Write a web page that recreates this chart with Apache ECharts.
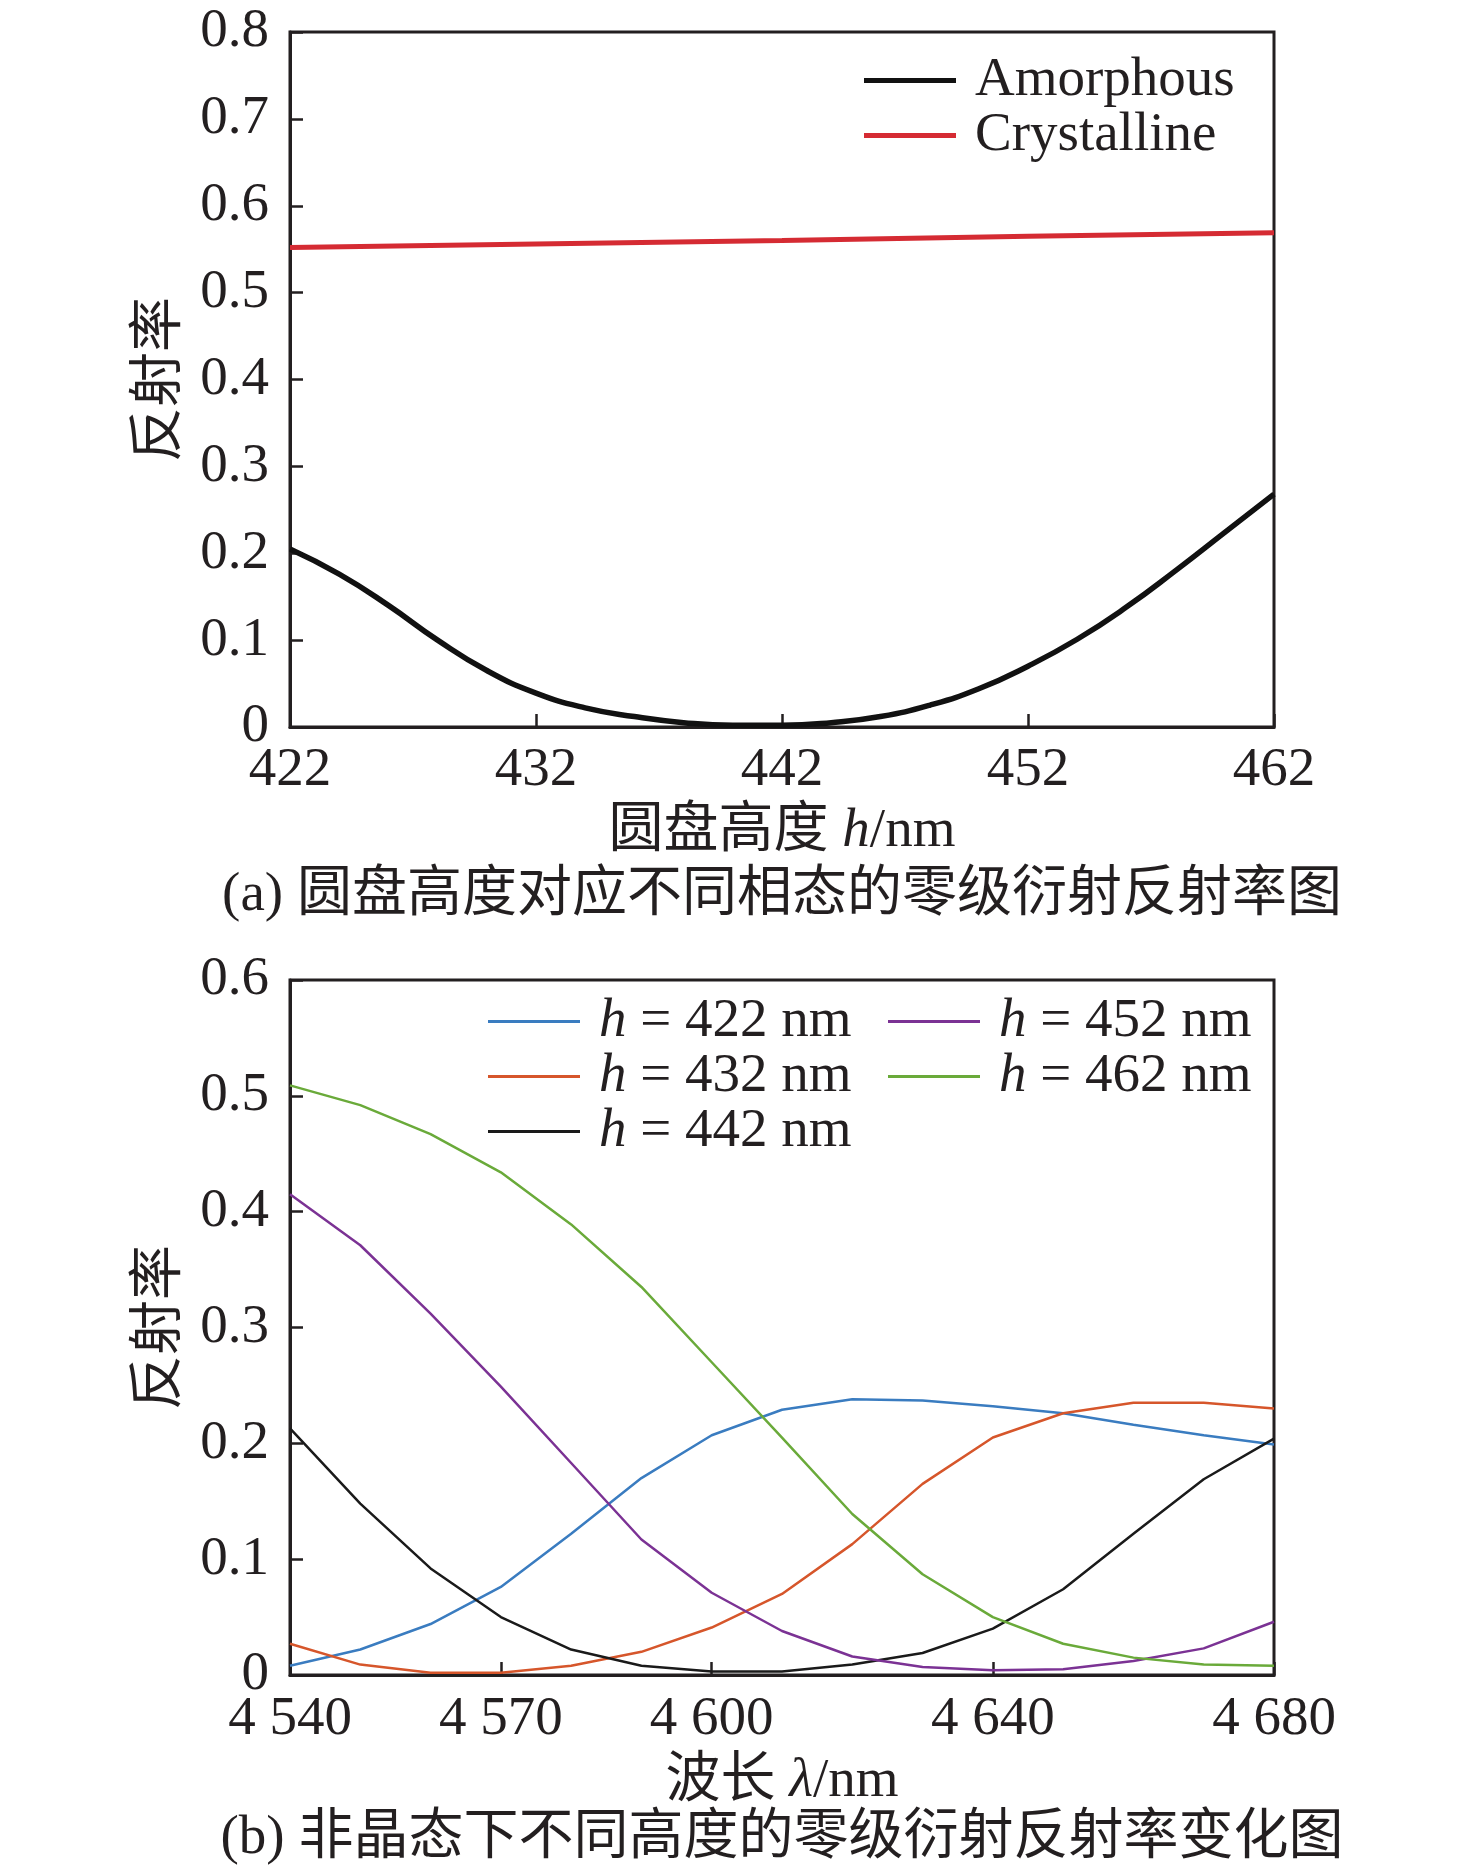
<!DOCTYPE html>
<html><head><meta charset="utf-8">
<script src="https://cdn.jsdelivr.net/npm/echarts@6/dist/echarts.min.js"></script>
<style>html,body{margin:0;padding:0;background:#fff}#c{width:1476px;height:1875px}</style>
</head><body><div id="c"></div>
<script>
// ---- Data (a): reflectance vs disk height ----
const heightA = [422,424,426,428,430,432,434,436,438,440,442,444,446,448,450,452,454,456,458,460,462];
const amorphous = [0.205,0.176,0.140,0.100,0.065,0.039,0.022,0.012,0.005,0.002,0.002,0.005,0.012,0.025,0.044,0.070,0.101,0.138,0.180,0.224,0.268];
const heightCrys = [422,432,442,452,462];
const crystalline = [0.552,0.556,0.560,0.565,0.569];
const heightTicks = [422,432,442,452,462];

// ---- Data (b): reflectance vs wavelength, amorphous, different heights ----
const wavelength = [4540,4550,4560,4570,4580,4590,4600,4610,4620,4630,4640,4650,4660,4670,4680];
const r422 = [0.008,0.022,0.044,0.076,0.122,0.170,0.207,0.229,0.238,0.237,0.232,0.226,0.216,0.207,0.199];
const r432 = [0.027,0.009,0.002,0.002,0.008,0.020,0.041,0.070,0.113,0.165,0.205,0.226,0.235,0.235,0.230];
const r442 = [0.213,0.148,0.092,0.050,0.022,0.008,0.003,0.003,0.009,0.019,0.040,0.074,0.122,0.169,0.204];
const r452 = [0.415,0.371,0.312,0.249,0.183,0.117,0.071,0.038,0.016,0.007,0.004,0.005,0.012,0.023,0.046];
const r462 = [0.509,0.492,0.467,0.434,0.389,0.335,0.270,0.205,0.139,0.087,0.050,0.027,0.015,0.009,0.008];
const wavelengthTicks = [4540,4570,4600,4640,4680];
const seriesNamesB = ['h = 422 nm','h = 432 nm','h = 442 nm','h = 452 nm','h = 462 nm'];

const INK = '#231f20';
const FONT = "'Liberation Serif', 'Noto Sans CJK SC', serif";
const FS = 55;

const zip = (xs, ys) => xs.map((x, i) => [x, ys[i]]);
const yFmt = v => (Math.abs(v) < 1e-9 ? '0' : v.toFixed(1));
const richI = { i: { fontStyle: 'italic', fontSize: FS, fontFamily: FONT, color: INK, lineHeight: 54 } };

function xAxisBase(gi, min, max, ticks, fmt, name, gap, margin) {
  return {
    gridIndex: gi, type: 'value', min: min, max: max,
    name: name, nameLocation: 'middle', nameGap: gap,
    nameTextStyle: { fontSize: FS, fontFamily: FONT, color: INK, rich: richI },
    axisLine: { show: true, lineStyle: { color: INK, width: 3 } },
    axisTick: { show: true, inside: true, length: 13, lineStyle: { color: INK, width: 2.5 }, customValues: ticks },
    axisLabel: { customValues: ticks, margin: margin, fontSize: FS, fontFamily: FONT, color: INK, formatter: fmt },
    splitLine: { show: false }
  };
}
function yAxisBase(gi, max) {
  return {
    gridIndex: gi, type: 'value', min: 0, max: max, interval: 0.1,
    name: '反射率', nameLocation: 'middle', nameGap: 102,
    nameTextStyle: { fontSize: FS, fontFamily: FONT, color: INK },
    axisLine: { show: true, lineStyle: { color: INK, width: 3 } },
    axisTick: { show: true, inside: true, length: 13, lineStyle: { color: INK, width: 2.5 } },
    axisLabel: { margin: 21, fontSize: FS, fontFamily: FONT, color: INK, formatter: yFmt },
    splitLine: { show: false }
  };
}

const colorsB = ['#3a7cc0', '#d6562b', '#1a1a1a', '#7b3294', '#6aaa3a'];
const dataB = [r422, r432, r442, r452, r462];

const legendText = { fontSize: FS, fontFamily: FONT, color: INK, lineHeight: 54, rich: richI };

const option = {
  animation: false,
  backgroundColor: '#ffffff',
  grid: [
    { left: 290, top: 32, width: 984, height: 695, show: true, borderColor: INK, borderWidth: 3, backgroundColor: 'transparent' },
    { left: 290, top: 980, width: 984, height: 695, show: true, borderColor: INK, borderWidth: 3, backgroundColor: 'transparent' }
  ],
  xAxis: [
    xAxisBase(0, 422, 462, heightTicks, v => String(v), '圆盘高度 {i|h}/nm', 77, 16),
    xAxisBase(1, 4540, 4680, wavelengthTicks, v => String(v).replace(/^(\d)(\d{3})$/, '$1 $2'), '波长 {i|λ}/nm', 79, 17)
  ],
  yAxis: [ yAxisBase(0, 0.8), yAxisBase(1, 0.6) ],
  legend: [
    { data: ['Amorphous', 'Crystalline'], orient: 'vertical', left: 864, top: 53, padding: 0, itemGap: 0,
      itemWidth: 92, itemHeight: 5, icon: 'rect', textStyle: Object.assign({}, legendText, { padding: [0, 0, 0, 14] }) },
    { data: seriesNamesB.slice(0, 3), orient: 'vertical', left: 488, top: 994, padding: 0, itemGap: 0,
      itemWidth: 92, itemHeight: 3, icon: 'rect', formatter: n => '{i|h}' + n.slice(1),
      textStyle: Object.assign({}, legendText, { padding: [0, 0, 0, 14] }) },
    { data: seriesNamesB.slice(3), orient: 'vertical', left: 888, top: 994, padding: 0, itemGap: 0,
      itemWidth: 92, itemHeight: 3, icon: 'rect', formatter: n => '{i|h}' + n.slice(1),
      textStyle: Object.assign({}, legendText, { padding: [0, 0, 0, 14] }) }
  ],
  graphic: [
    { type: 'text', x: 782, y: 896, style: { text: '(a) 圆盘高度对应不同相态的零级衍射反射率图', fontSize: 55, fontFamily: FONT, fill: INK, align: 'center', verticalAlign: 'middle' } },
    { type: 'text', x: 782, y: 1839, style: { text: '(b) 非晶态下不同高度的零级衍射反射率变化图', fontSize: 55, fontFamily: FONT, fill: INK, align: 'center', verticalAlign: 'middle' } }
  ],
  series: [
    { name: 'Amorphous', type: 'line', xAxisIndex: 0, yAxisIndex: 0, data: zip(heightA, amorphous), smooth: true,
      symbol: 'none', color: '#111111', lineStyle: { width: 5.5, color: '#111111' } },
    { name: 'Crystalline', type: 'line', xAxisIndex: 0, yAxisIndex: 0, data: zip(heightCrys, crystalline),
      symbol: 'none', color: '#d52b33', lineStyle: { width: 5, color: '#d52b33' } }
  ].concat(seriesNamesB.map((n, k) => ({
    name: n, type: 'line', xAxisIndex: 1, yAxisIndex: 1, data: zip(wavelength, dataB[k]),
    symbol: 'none', color: colorsB[k], lineStyle: { width: 2.5, color: colorsB[k] }
  })))
};

const chart = echarts.init(document.getElementById('c'), null, { renderer: 'canvas' });
chart.setOption(option);
</script></body></html>
